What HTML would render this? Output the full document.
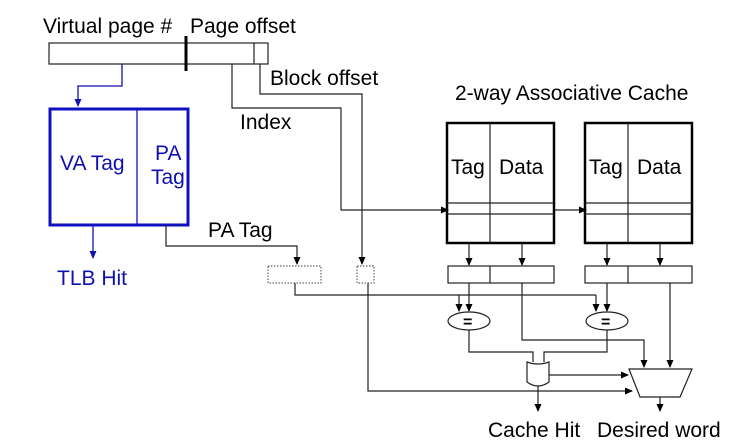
<!DOCTYPE html>
<html><head><style>
html,body{margin:0;padding:0;background:#fff;}
svg{display:block;}
text{font-family:"Liberation Sans",sans-serif;}
</style></head><body>
<svg width="740" height="447" viewBox="0 0 740 447" xmlns="http://www.w3.org/2000/svg">
<defs>
<marker id="a" markerWidth="8" markerHeight="8" refX="7" refY="4" orient="auto" markerUnits="userSpaceOnUse"><path d="M0,0.5 L8,4 L0,7.5 z" fill="#000"/></marker>
<marker id="b" markerWidth="8" markerHeight="8" refX="7" refY="4" orient="auto" markerUnits="userSpaceOnUse"><path d="M0,0.5 L8,4 L0,7.5 z" fill="#1010b0"/></marker>
</defs>
<g fill="#000" font-size="21">
<text x="43" y="33">Virtual page #</text>
<text x="190" y="33">Page offset</text>
<text x="270" y="85">Block offset</text>
<text x="240" y="129">Index</text>
<text x="455" y="100">2-way Associative Cache</text>
<text x="208" y="237">PA Tag</text>
<text x="488" y="437">Cache Hit</text>
<text x="597" y="437">Desired word</text>
</g>
<rect x="49" y="43" width="219" height="21" fill="none" stroke="#222" stroke-width="1.2"/>
<line x1="254" y1="43" x2="254" y2="64" stroke="#222" stroke-width="1.2"/>
<line x1="186" y1="36" x2="186" y2="71" stroke="#000" stroke-width="3"/>
<polyline points="122,64 122,86 78,86 78,106" fill="none" stroke="#1010b0" stroke-width="1.3" marker-end="url(#b)"/>
<rect x="50" y="109" width="138" height="116" fill="none" stroke="#1010c0" stroke-width="3"/>
<line x1="137" y1="109" x2="137" y2="225" stroke="#1010c0" stroke-width="1.3"/>
<g fill="#1010b0" font-size="21">
<text x="60" y="170">VA Tag</text>
<text x="155" y="160">PA</text>
<text x="151" y="184">Tag</text>
<text x="57" y="285">TLB Hit</text>
</g>
<polyline points="93,225 93,258" fill="none" stroke="#1010b0" stroke-width="1.3" marker-end="url(#b)"/>
<g fill="none" stroke="#222" stroke-width="1.2">
<polyline points="166,225 166,246 297,246 297,264" marker-end="url(#a)"/>
<polyline points="232,64 232,108 341,108 341,210 448,210" marker-end="url(#a)"/>
<polyline points="554,210 586,210" marker-end="url(#a)"/>
<polyline points="260,64 260,94 362,94 362,264" marker-end="url(#a)"/>
<rect x="268" y="266" width="53" height="17" stroke="#666" stroke-dasharray="1.5,1.5"/>
<rect x="357" y="266" width="17" height="17" stroke="#666" stroke-dasharray="1.5,1.5"/>
<polyline points="295,283 295,295 596,295"/>
<polyline points="459,295 459,311" marker-end="url(#a)"/>
<polyline points="596,295 596,311" marker-end="url(#a)"/>
<polyline points="368,283 368,391 632,391" marker-end="url(#a)"/>
<rect x="447" y="123" width="107" height="120" stroke="#000" stroke-width="2.5"/>
<line x1="490" y1="123" x2="490" y2="243"/>
<line x1="447" y1="203" x2="554" y2="203"/>
<line x1="447" y1="214" x2="554" y2="214"/>
<rect x="585" y="123" width="107" height="120" stroke="#000" stroke-width="2.5"/>
<line x1="628" y1="123" x2="628" y2="243"/>
<line x1="585" y1="203" x2="692" y2="203"/>
<line x1="585" y1="214" x2="692" y2="214"/>
<polyline points="469,243 469,265" marker-end="url(#a)"/>
<polyline points="522,243 522,265" marker-end="url(#a)"/>
<polyline points="607,243 607,265" marker-end="url(#a)"/>
<polyline points="660,243 660,265" marker-end="url(#a)"/>
<rect x="448" y="266" width="106" height="17"/>
<line x1="490" y1="266" x2="490" y2="283"/>
<rect x="585" y="266" width="107" height="17"/>
<line x1="628" y1="266" x2="628" y2="283"/>
<polyline points="469,283 469,311" marker-end="url(#a)"/>
<polyline points="607,283 607,311" marker-end="url(#a)"/>
<ellipse cx="469" cy="321" rx="21" ry="9"/>
<ellipse cx="607" cy="321" rx="21" ry="9"/>
<polyline points="469,330 469,352 533,352 533,362"/>
<polyline points="607,330 607,352 544,352 544,362"/>
<path d="M527,362 L527,382 Q538,390 549,382 L549,362 Q538,366 527,362 z"/>
<polyline points="538,386 538,411" marker-end="url(#a)"/>
<polyline points="549,375 628,375" marker-end="url(#a)"/>
<polyline points="522,283 522,340 644,340 644,367" marker-end="url(#a)"/>
<polyline points="670,283 670,367" marker-end="url(#a)"/>
<polygon points="629,369 692,369 680,397 640,397"/>
<polyline points="660,397 660,411" marker-end="url(#a)"/>
</g>
<g fill="#000" font-size="16" font-weight="bold"><text x="463" y="327">=</text><text x="601" y="327">=</text></g>
<g fill="#000" font-size="21"><text x="451" y="174">Tag</text><text x="499" y="174">Data</text><text x="589" y="174">Tag</text><text x="637" y="174">Data</text></g>
</svg>
</body></html>
